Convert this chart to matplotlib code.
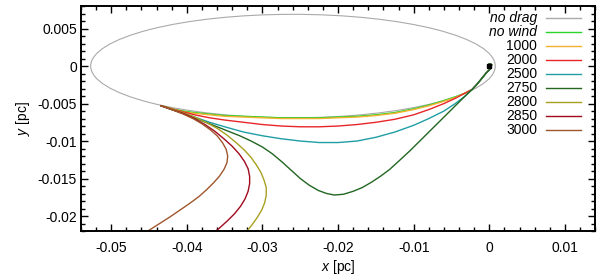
import numpy as np
import matplotlib
matplotlib.use("Agg")
import matplotlib.pyplot as plt
from matplotlib.patches import Ellipse
from matplotlib.ticker import MultipleLocator

plt.rcParams.update({
    "font.family": "Liberation Sans",
    "font.size": 10,
    "mathtext.fontset": "custom",
    "mathtext.rm": "Liberation Sans",
    "mathtext.it": "Liberation Sans:italic",
})

# unperturbed orbit (no drag)
orbit_center = (-0.02597, 0.0)
orbit_width = 0.0535
orbit_height = 0.0138

# common end of the inspiral near the centre
tail_x = [-0.0017, -0.0012, -0.0004, 0.0002, 0.0003, 0.0000, -0.0002, 0.0000]
tail_y = [-0.0025, -0.0019, -0.0009, -0.0003, 0.0002, 0.0003, 0.0001, 0.0000]

# shared x samples for the shallow tracks
grid_x = [-0.0434, -0.0420, -0.0405, -0.0390, -0.0370, -0.0350, -0.0325, -0.0300,
          -0.0275, -0.0250, -0.0225, -0.0200, -0.0175, -0.0150, -0.0125, -0.0100,
          -0.0080, -0.0060, -0.0045, -0.0032, -0.00225]

nowind_y = [-0.0053, -0.0057, -0.0060, -0.0062, -0.0064, -0.0066, -0.0067, -0.0068,
            -0.0069, -0.0069, -0.0069, -0.0068, -0.0067, -0.0065, -0.0062, -0.0057,
            -0.0052, -0.0046, -0.0041, -0.0036, -0.0031]

w1000_y = [-0.0053, -0.0057, -0.0061, -0.0063, -0.0065, -0.0067, -0.0068, -0.0069,
           -0.0070, -0.0070, -0.0070, -0.0069, -0.0068, -0.0066, -0.0063, -0.0058,
           -0.0053, -0.0047, -0.0042, -0.0036, -0.0031]

w2000_y = [-0.0053, -0.0057, -0.0061, -0.0065, -0.0069, -0.0072, -0.0075, -0.0078,
           -0.0080, -0.0081, -0.0081, -0.0080, -0.0078, -0.0075, -0.0071, -0.0065,
           -0.0058, -0.0050, -0.0043, -0.0036, -0.0031]

w2500_y = [-0.0053, -0.0058, -0.0063, -0.0068, -0.0075, -0.0081, -0.0088, -0.0093,
           -0.0097, -0.0100, -0.0102, -0.0102, -0.0100, -0.0095, -0.0088, -0.0079,
           -0.0070, -0.0060, -0.0050, -0.0040, -0.0031]

w2750_x = [-0.0434, -0.0420, -0.0405, -0.0390, -0.0375, -0.0360, -0.0345, -0.0330,
           -0.0315, -0.0300, -0.0287, -0.0274, -0.0262, -0.0250, -0.0238, -0.0226,
           -0.0215, -0.0205, -0.0193, -0.0180, -0.0168, -0.0156, -0.0144, -0.0132,
           -0.0120, -0.0105, -0.0090, -0.0075, -0.0060, -0.0045, -0.0032, -0.00225]
w2750_y = [-0.0053, -0.0058, -0.0063, -0.0069, -0.0075, -0.0081, -0.0087, -0.0093,
           -0.0100, -0.0108, -0.0117, -0.0128, -0.0139, -0.0150, -0.0159, -0.0166,
           -0.0170, -0.0172, -0.0171, -0.0167, -0.0162, -0.0155, -0.0147, -0.0138,
           -0.0127, -0.0113, -0.0098, -0.0083, -0.0068, -0.0053, -0.0040, -0.0031]

w2800_x = [-0.0434, -0.0420, -0.0405, -0.0390, -0.0375, -0.0360, -0.0347, -0.0335,
           -0.0324, -0.0315, -0.0308, -0.0302, -0.0298, -0.0295, -0.0295, -0.0297,
           -0.0301, -0.0307, -0.0314, -0.0322, -0.0327]
w2800_y = [-0.0053, -0.0057, -0.0062, -0.0068, -0.0075, -0.0083, -0.0092, -0.0102,
           -0.0112, -0.0122, -0.0132, -0.0142, -0.0152, -0.0162, -0.0172, -0.0182,
           -0.0192, -0.0202, -0.0212, -0.0222, -0.0228]

w2850_x = [-0.0434, -0.0420, -0.0405, -0.0390, -0.0376, -0.0363, -0.0351, -0.0340,
           -0.0331, -0.0324, -0.0319, -0.0317, -0.0317, -0.0319, -0.0323, -0.0329,
           -0.0337, -0.0347, -0.0358, -0.0370]
w2850_y = [-0.0053, -0.0058, -0.0063, -0.0070, -0.0078, -0.0087, -0.0097, -0.0107,
           -0.0117, -0.0127, -0.0137, -0.0147, -0.0157, -0.0167, -0.0177, -0.0187,
           -0.0197, -0.0207, -0.0217, -0.0227]

w3000_x = [-0.0434, -0.0420, -0.0405, -0.0392, -0.0380, -0.0369, -0.0360, -0.0353,
           -0.0348, -0.0346, -0.0347, -0.0351, -0.0357, -0.0365, -0.0374, -0.0384,
           -0.0396, -0.0409, -0.0422, -0.0436, -0.0450, -0.0463]
w3000_y = [-0.0053, -0.0058, -0.0064, -0.0070, -0.0077, -0.0085, -0.0093, -0.0102,
           -0.0111, -0.0120, -0.0129, -0.0138, -0.0147, -0.0156, -0.0165, -0.0174,
           -0.0183, -0.0192, -0.0201, -0.0210, -0.0219, -0.0228]

labels = ["no drag", "no wind", "1000", "2000", "2500", "2750", "2800", "2850", "3000"]
colors = ["#aaaaaa", "#2ad52a", "#f5b030", "#e8262a", "#1f9ea4", "#226622",
          "#a8a020", "#a00a1e", "#a0562d"]

fig = plt.figure(figsize=(6.0, 2.76), dpi=100)
ax = fig.add_axes([0.135, 0.163, 0.857, 0.815])

ax.add_patch(Ellipse(orbit_center, orbit_width, orbit_height, fill=False,
                     edgecolor=colors[0], lw=0.8))

tracks = [
    (grid_x + tail_x, nowind_y + tail_y),
    (grid_x + tail_x, w1000_y + tail_y),
    (grid_x + tail_x, w2000_y + tail_y),
    (grid_x + tail_x, w2500_y + tail_y),
    (w2750_x + tail_x, w2750_y + tail_y),
    (w2800_x, w2800_y),
    (w2850_x, w2850_y),
    (w3000_x, w3000_y),
]
for (xs, ys), c in zip(tracks, colors[1:]):
    ax.plot(xs, ys, color=c, lw=1.0, solid_joinstyle="round")

ax.plot([0.0], [0.0], "s", color="black", ms=2.2, zorder=10)

# key in the upper right, text right-aligned before the sample line
for i, (lab, c) in enumerate(zip(labels, colors)):
    yk = 0.945 - i * 0.0618
    ax.text(0.887, yk, lab, transform=ax.transAxes, ha="right", va="center",
            fontsize=10, style="italic" if i < 2 else "normal")
    ax.plot([0.905, 0.973], [yk, yk], transform=ax.transAxes, color=c, lw=1.0)

ax.set_xlim(-0.054, 0.014)
ax.set_ylim(-0.022, 0.008)
ax.xaxis.set_major_locator(MultipleLocator(0.01))
ax.xaxis.set_minor_locator(MultipleLocator(0.002))
ax.yaxis.set_major_locator(MultipleLocator(0.005))
ax.yaxis.set_minor_locator(MultipleLocator(0.001))
fmt = plt.FuncFormatter(lambda v, _: f"{v:g}" if abs(v) > 1e-9 else "0")
ax.xaxis.set_major_formatter(fmt)
ax.yaxis.set_major_formatter(fmt)
ax.tick_params(which="both", direction="in", top=True, right=True, width=1.0)
ax.tick_params(which="major", length=5)
ax.tick_params(which="minor", length=3)
ax.tick_params(axis="x", pad=7)
ax.tick_params(axis="y", pad=3)
for s in ax.spines.values():
    s.set_linewidth(1.4)

ax.set_xlabel("$x$ [pc]", labelpad=2)
ax.set_ylabel("$y$ [pc]", labelpad=4)

fig.savefig("out.png", dpi=100, facecolor="white")
